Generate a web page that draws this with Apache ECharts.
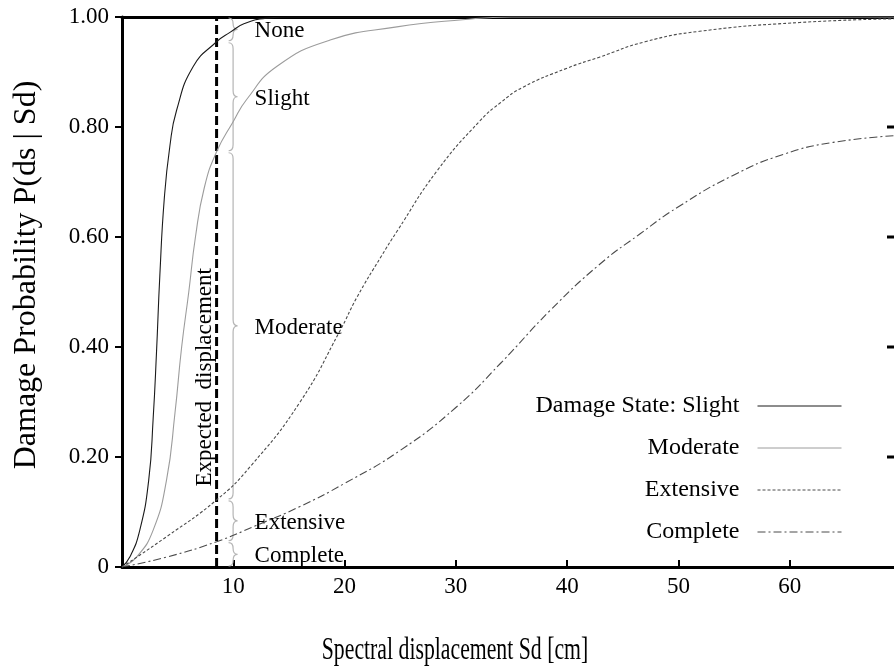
<!DOCTYPE html>
<html>
<head>
<meta charset="utf-8">
<script src="https://cdn.jsdelivr.net/npm/echarts@6/dist/echarts.min.js"></script>
<style>
html, body { margin: 0; background: #fff; }
#main { width: 894px; height: 668px; }
</style>
</head>
<body>
<div id="main"></div>
<script>
// fragility curves: spectral displacement (cm) / exceedance probability
var sdSlight = [0, 0.7, 1.6, 2.4, 2.8, 3.1, 3.4, 3.8, 4.3, 4.9, 6.4, 8.5, 9.7, 11, 13, 15, 70];
var pSlight = [0, 0.018, 0.067, 0.158, 0.27, 0.39, 0.53, 0.67, 0.765, 0.83, 0.91, 0.955, 0.972, 0.988, 0.998, 1, 1];

var sdModerate = [0, 1.3, 2.8, 4.0, 4.76, 5.36, 6.0, 6.6, 7.4, 8.5, 10.0, 11.2, 13.9, 18.7, 24.7, 30.6, 35, 70];
var pModerate = [0, 0.018, 0.067, 0.158, 0.28, 0.40, 0.50, 0.60, 0.69, 0.755, 0.81, 0.85, 0.91, 0.958, 0.982, 0.995, 1, 1];

var sdExtensive = [0, 4, 8.5, 11.5, 16, 19.6, 21.1, 23.3, 24.7, 28.3, 32.2, 34, 36, 40, 42.9, 47, 51.9, 60.9, 70];
var pExtensive = [0, 0.055, 0.122, 0.182, 0.30, 0.43, 0.49, 0.565, 0.61, 0.72, 0.812, 0.844, 0.872, 0.907, 0.927, 0.955, 0.974, 0.99, 0.997];

var sdComplete = [0, 4, 8.5, 12, 16, 20, 25, 30, 34, 38.5, 42.9, 46.5, 50, 54.9, 59.4, 63.9, 70];
var pComplete = [0, 0.018, 0.046, 0.075, 0.11, 0.152, 0.212, 0.29, 0.37, 0.467, 0.55, 0.605, 0.655, 0.712, 0.75, 0.772, 0.785];

var legendNames = ['Damage State: Slight', 'Moderate', 'Extensive', 'Complete'];

// expected displacement and the damage state bands at that point
var expectedSd = 8.5;
var stateNames = ['None', 'Slight', 'Moderate', 'Extensive', 'Complete'];
var bandBounds = [1.0, 0.955, 0.755, 0.122, 0.046, 0];

// ticks on the right-hand frame
var xMax = 70;
var rightTicks = [0.2, 0.4, 0.6, 0.8];

var FONT = 'Liberation Serif';

function zip(xs, ys) {
    return xs.map(function (x, i) { return [x, ys[i]]; });
}

var myChart = echarts.init(document.getElementById('main'));

function curve(name, xs, ys, color, type) {
    return {
        name: name,
        type: 'line',
        data: zip(xs, ys),
        smooth: 0.5,
        symbol: 'none',
        silent: true,
        lineStyle: { color: color, width: 1.1, type: type },
        itemStyle: { color: color }
    };
}

function renderBrace(params, api) {
    var i = params.dataIndex;
    var top = api.coord([api.value(0), api.value(1)]);
    var bot = api.coord([api.value(0), api.value(2)]);
    var x0 = top[0] + 12, w = 4.5;
    var y0 = top[1] + 1, y1 = bot[1] - 1, ym = (y0 + y1) / 2;
    var r = Math.min(6, (y1 - y0) / 4);
    var xm = x0 + w;
    var d = 'M' + x0 + ' ' + y0 +
        ' Q' + xm + ' ' + y0 + ' ' + xm + ' ' + (y0 + r) +
        ' L' + xm + ' ' + (ym - r) +
        ' Q' + xm + ' ' + ym + ' ' + (xm + w) + ' ' + ym +
        ' Q' + xm + ' ' + ym + ' ' + xm + ' ' + (ym + r) +
        ' L' + xm + ' ' + (y1 - r) +
        ' Q' + xm + ' ' + y1 + ' ' + x0 + ' ' + y1;
    return {
        type: 'group',
        children: [
            { type: 'path', shape: { pathData: d }, style: { stroke: '#b5b5b5', fill: null, lineWidth: 1.2 } },
            {
                type: 'text', x: x0 + 26, y: ym + 2,
                style: { text: stateNames[i], fill: '#000', fontSize: 23, fontFamily: FONT, align: 'left', verticalAlign: 'middle' }
            }
        ]
    };
}

function renderExpected(params, api) {
    var a = api.coord([api.value(0), 0]);
    var b = api.coord([api.value(0), 1]);
    var t = api.coord([api.value(0), 0.345]);
    return {
        type: 'group',
        children: [
            { type: 'line', shape: { x1: a[0], y1: a[1], x2: b[0], y2: b[1] }, style: { stroke: '#000', lineWidth: 3, lineDash: [9, 4] } },
            {
                type: 'text', x: t[0] - 12, y: t[1], rotation: Math.PI / 2,
                style: { text: 'Expected  displacement', fill: '#000', fontSize: 23, fontFamily: FONT, align: 'center', verticalAlign: 'middle' }
            }
        ]
    };
}

function renderRightTick(params, api) {
    var p = api.coord([api.value(0), api.value(1)]);
    return {
        type: 'line',
        shape: { x1: p[0] - 14, y1: p[1], x2: p[0], y2: p[1] },
        style: { stroke: '#000', lineWidth: 3 }
    };
}

var option = {
    animation: false,
    backgroundColor: '#fff',
    textStyle: { fontFamily: FONT, color: '#000' },
    grid: { left: 122, right: -7, top: 17, bottom: 101, containLabel: false, outerBoundsMode: 'none' },
    graphic: [{
        type: 'text',
        x: 455, y: 651,
        scaleX: 0.68,
        style: { text: 'Spectral displacement Sd [cm]', fontSize: 32, fontFamily: FONT, fill: '#000', align: 'center', verticalAlign: 'middle' }
    }],
    legend: {
        data: legendNames,
        orient: 'vertical',
        align: 'right',
        right: 52,
        top: 394,
        padding: 0,
        itemWidth: 84,
        itemHeight: 14,
        itemGap: 18,
        selectedMode: false,
        itemStyle: { opacity: 0 },
        lineStyle: { width: 1 },
        textStyle: { fontFamily: FONT, fontSize: 24, color: '#000', padding: [0, 13, 0, 0] }
    },
    xAxis: [{
        type: 'value',
        min: 0, max: xMax, interval: 10,
        position: 'bottom',
        axisLine: { lineStyle: { color: '#000', width: 3 } },
        axisTick: { inside: true, length: 7, lineStyle: { color: '#000', width: 2 } },
        axisLabel: {
            color: '#000', fontSize: 23, fontFamily: FONT, margin: 8,
            formatter: function (v) { return (v === 0 || v === xMax) ? '' : String(v); }
        },
        splitLine: { show: false }
    }, {
        type: 'value',
        min: 0, max: xMax, interval: 10,
        position: 'top',
        axisLine: { lineStyle: { color: '#000', width: 3 } },
        axisTick: { show: false },
        axisLabel: { show: false },
        splitLine: { show: false }
    }],
    yAxis: [{
        type: 'value',
        min: 0, max: 1, interval: 0.2,
        position: 'left',
        name: 'Damage Probability P(ds | Sd)',
        nameLocation: 'middle',
        nameGap: 79,
        nameTextStyle: { fontFamily: FONT, fontSize: 32, color: '#000', padding: [0, 0, 0, 34] },
        axisLine: { lineStyle: { color: '#000', width: 3 } },
        axisTick: { length: 7, lineStyle: { color: '#000', width: 2 } },
        axisLabel: {
            color: '#000', fontSize: 23, fontFamily: FONT, margin: 13,
            formatter: function (v) { return v === 0 ? '0' : v.toFixed(2); }
        },
        splitLine: { show: false }
    }],
    series: [
        curve(legendNames[0], sdSlight, pSlight, '#1a1a1a', 'solid'),
        curve(legendNames[1], sdModerate, pModerate, '#9c9c9c', 'solid'),
        curve(legendNames[2], sdExtensive, pExtensive, '#4a4a4a', [3, 2]),
        curve(legendNames[3], sdComplete, pComplete, '#4a4a4a', [8, 3, 2, 3]),
        {
            name: 'bands',
            type: 'custom',
            silent: true,
            renderItem: renderBrace,
            data: stateNames.map(function (n, i) { return [expectedSd, bandBounds[i], bandBounds[i + 1]]; })
        },
        {
            name: 'expected',
            type: 'custom',
            silent: true,
            renderItem: renderExpected,
            data: [[expectedSd]]
        },
        {
            name: 'frame ticks',
            type: 'custom',
            silent: true,
            renderItem: renderRightTick,
            data: rightTicks.map(function (v) { return [xMax, v]; })
        }
    ]
};

myChart.setOption(option);
</script>
</body>
</html>
